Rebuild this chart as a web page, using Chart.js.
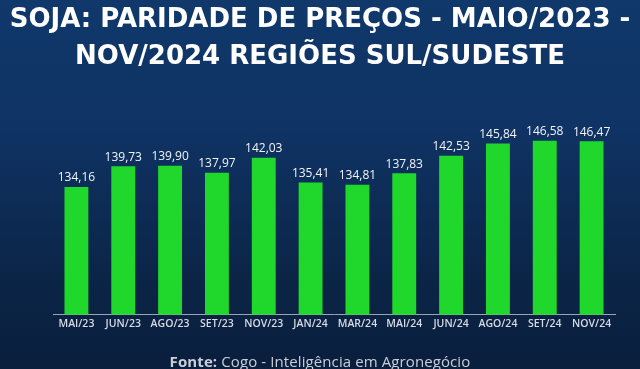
<!doctype html>
<html>
	<head>
		<title>Soja: paridade de preços</title>
		<script src="https://cdn.jsdelivr.net/npm/chart.js@4/dist/chart.umd.min.js"></script>
		<style>
			html, body {
				margin: 0;
				padding: 0;
			}
			body {
				width: 640px;
				height: 369px;
				overflow: hidden;
				position: relative;
				background: linear-gradient(180deg, #10386a 0%, #0f3364 35%, #0b2547 75%, #0a1e3d 100%);
				font-family: "Open Sans", sans-serif;
			}
			#title {
				position: absolute;
				left: 0;
				top: 0;
				width: 640px;
				text-align: center;
				color: #ffffff;
				font-family: "DejaVu Sans", sans-serif;
				font-weight: 700;
				font-size: 26px;
				line-height: 37px;
				letter-spacing: 0px;
			}
			#source {
				position: absolute;
				left: 0;
				top: 351px;
				width: 640px;
				text-align: center;
				color: #c9ced8;
				font-size: 15px;
				line-height: 20px;
				letter-spacing: 0.1px;
			}
			#source b {
				font-weight: 700;
			}
			#wrap {
				position: absolute;
				left: 0;
				top: 0;
				width: 640px;
				height: 369px;
			}
		</style>
	</head>
	<body>
		<div id="wrap"><canvas id="chart" width="640" height="369"></canvas></div>
		<div id="title">SOJA: PARIDADE DE PREÇOS - MAIO/2023 -<br>NOV/2024 REGIÕES SUL/SUDESTE</div>
		<div id="source"><b>Fonte:</b> Cogo - Inteligência em Agronegócio</div>

		<script>
			var months = ['MAI/23', 'JUN/23', 'AGO/23', 'SET/23', 'NOV/23', 'JAN/24',
				'MAR/24', 'MAI/24', 'JUN/24', 'AGO/24', 'SET/24', 'NOV/24'];
			var prices = [134.16, 139.73, 139.90, 137.97, 142.03, 135.41,
				134.81, 137.83, 142.53, 145.84, 146.58, 146.47];

			// writes the value over each bar, with a decimal comma
			var valueLabels = {
				id: 'valueLabels',
				afterDatasetsDraw: function(chart) {
					var ctx = chart.ctx;
					var meta = chart.getDatasetMeta(0);
					ctx.save();
					ctx.fillStyle = '#f2f4f8';
					ctx.font = '500 12px "Open Sans"';
					ctx.textAlign = 'center';
					ctx.textBaseline = 'middle';
					meta.data.forEach(function(bar, i) {
						ctx.fillText(prices[i].toFixed(2).replace('.', ','), bar.x, bar.y - 9);
					});
					ctx.restore();
				}
			};

			new Chart(document.getElementById('chart').getContext('2d'), {
				type: 'bar',
				data: {
					labels: months,
					datasets: [{
						data: prices,
						backgroundColor: '#20d82c',
						barPercentage: 0.51,
						categoryPercentage: 1
					}]
				},
				options: {
					responsive: false,
					animation: false,
					layout: {
						padding: { left: 53, right: 25, top: 128, bottom: 36 }
					},
					plugins: {
						legend: { display: false },
						tooltip: { enabled: false }
					},
					scales: {
						x: {
							grid: { display: false, drawTicks: false },
							border: { display: true, color: '#9aa4b4', width: 1 },
							ticks: {
								color: '#d6dbe4',
								padding: 3,
								font: { family: '"Open Sans"', size: 10.5, weight: '600' }
							}
						},
						y: {
							display: false,
							min: 100,
							max: 150
						}
					}
				},
				plugins: [valueLabels]
			});
		</script>
	</body>
</html>
